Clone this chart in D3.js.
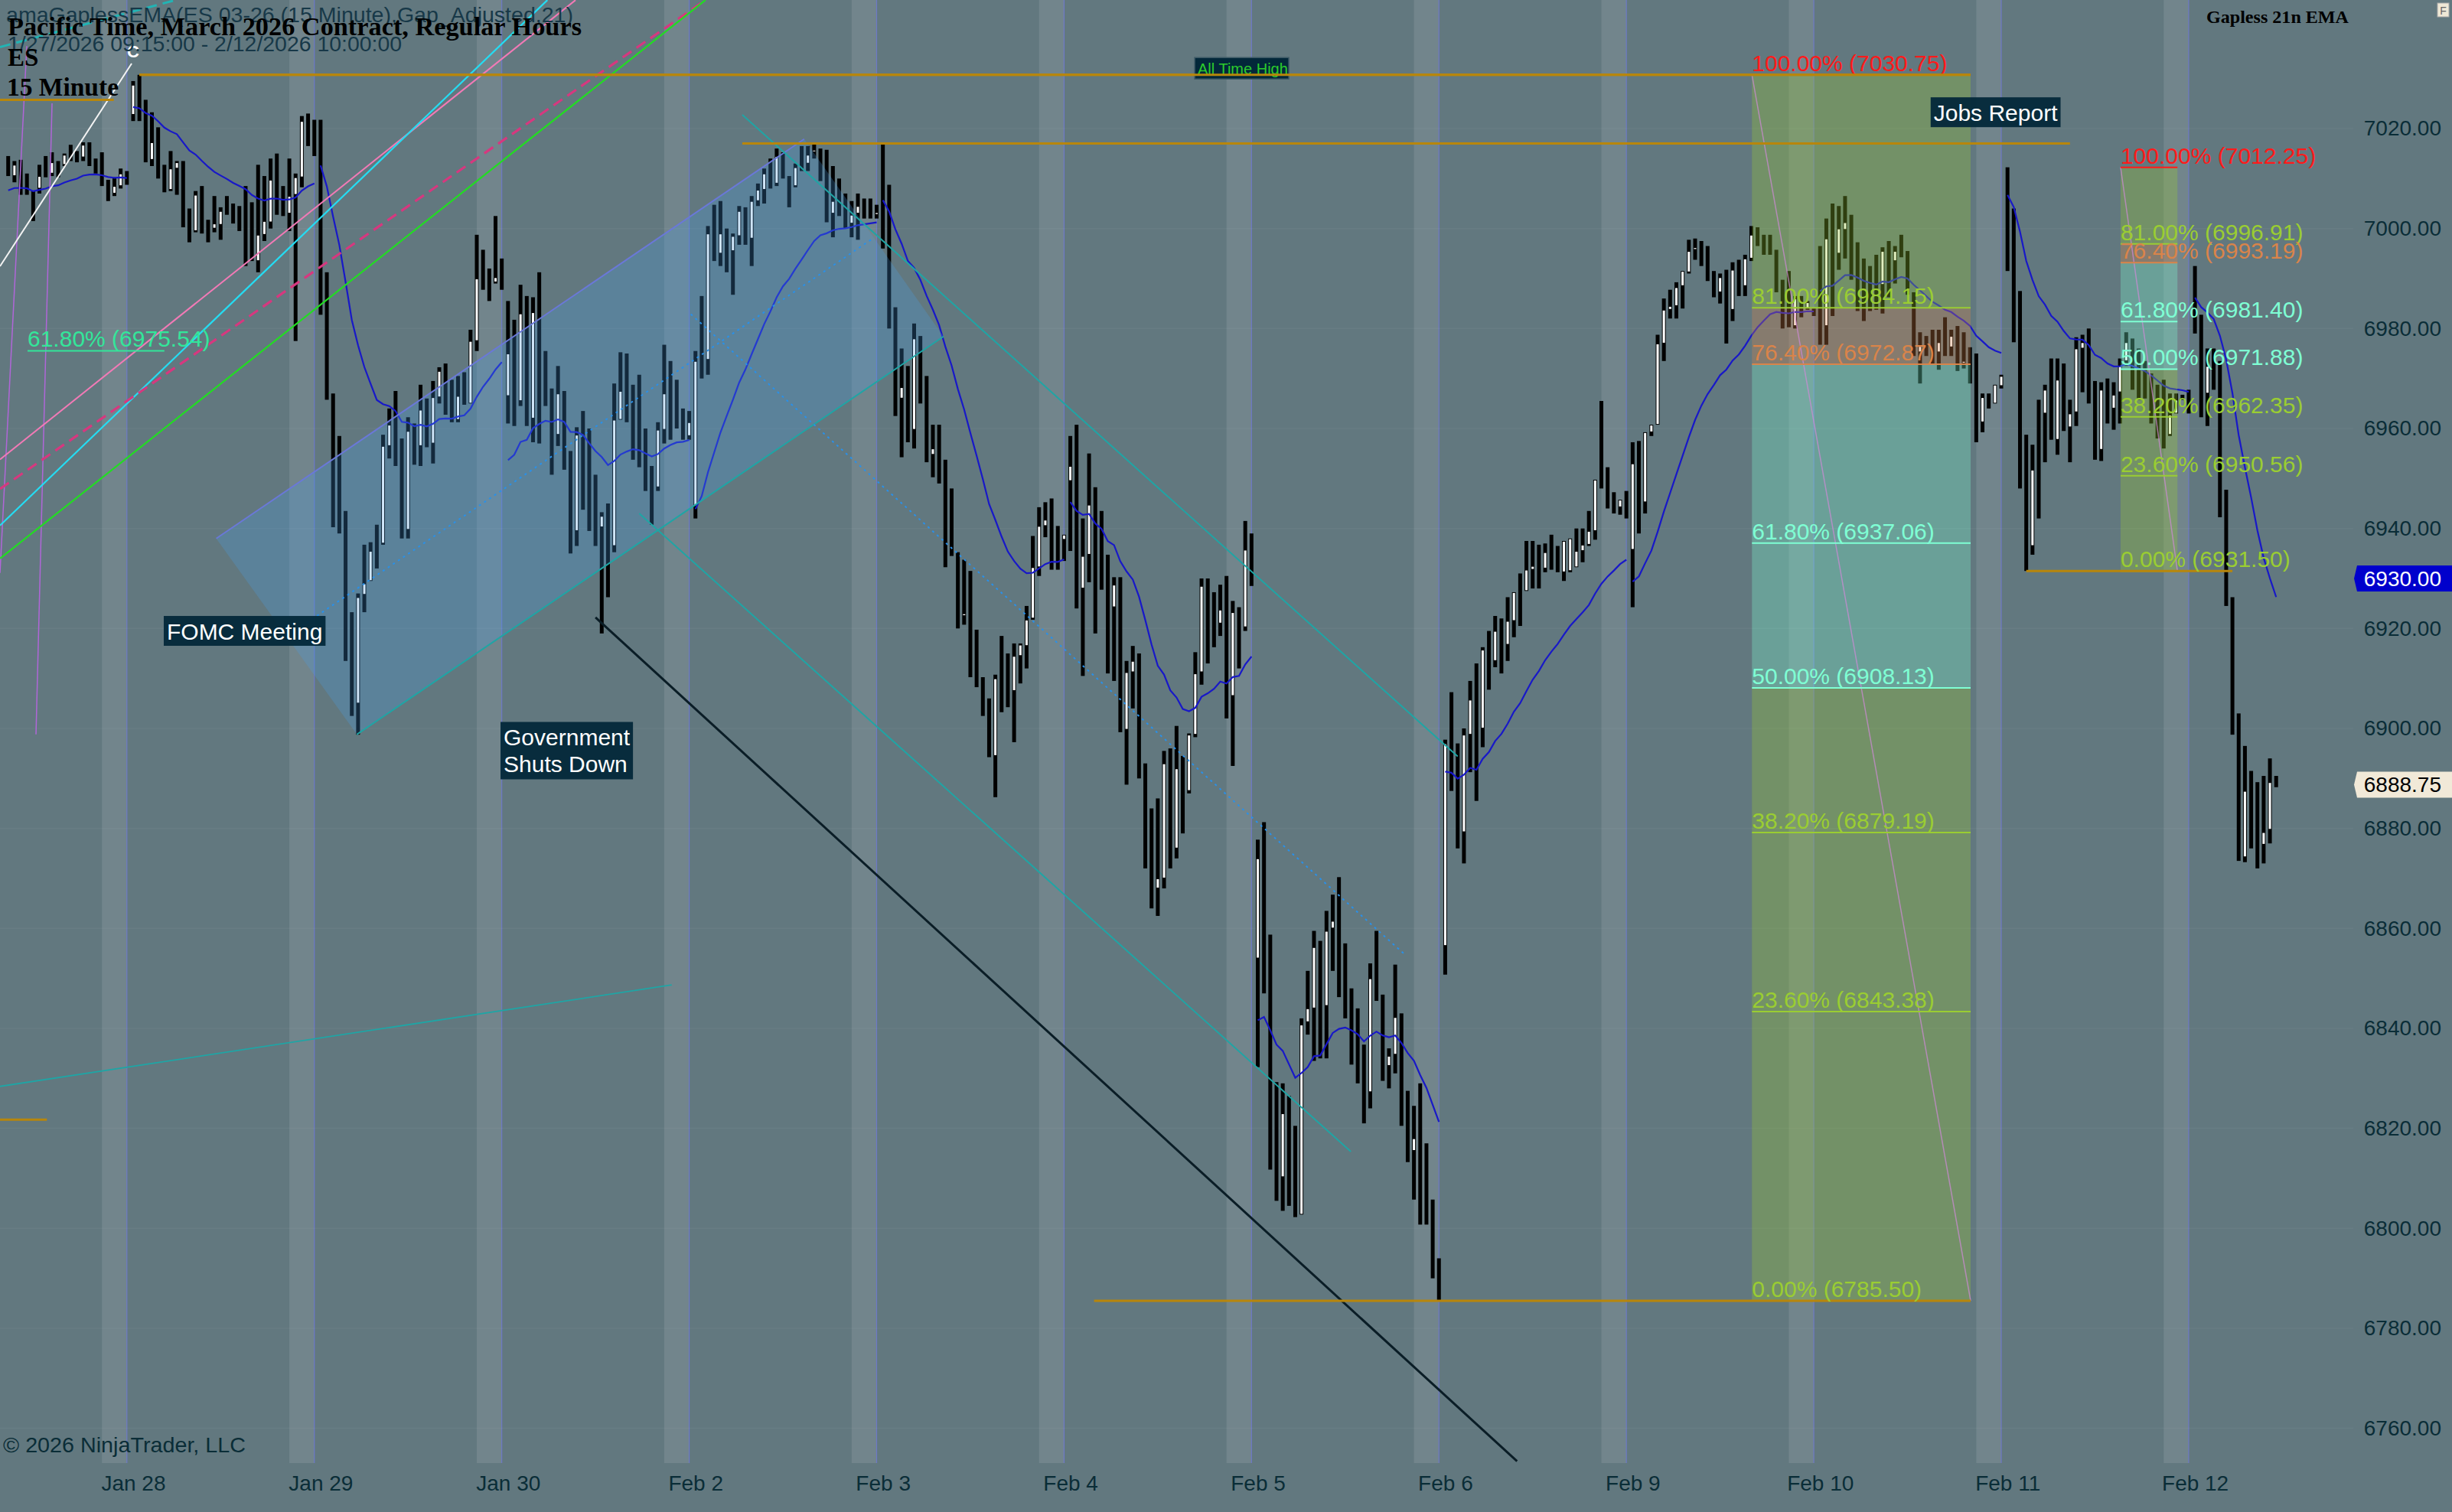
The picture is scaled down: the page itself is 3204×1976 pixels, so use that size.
<!DOCTYPE html>
<html>
<head>
<meta charset="utf-8">
<script src="https://cdn.jsdelivr.net/npm/d3@7"></script>
<style>
  body { margin: 0; background: #62787f; }
  svg { display: block; }
</style>
</head>
<body>
<svg id="chart" width="3204" height="1976"></svg>
<script>
// ES 03-26, 15 minute bars, [open, high, low, close]
const jan27 = [
  [7014,7014.5,7010.5,7011],[7010.5,7013.5,7009.25,7012.75],[7013.25,7013.75,7006.75,7008.5],[7010.5,7011,7006.75,7007],
  [7007,7007.5,7001.5,7001.75],[7008,7012.75,7007,7010.5],[7014.25,7014.5,7010.25,7010.5],[7011,7015.25,7010.5,7013.25],
  [7013.5,7013.5,7010.25,7010.5],[7012.75,7015,7012.5,7014.75],[7016.5,7016.75,7013.5,7013.75],[7015.25,7015.5,7013.25,7013.5],
  [7014.25,7017.25,7013.5,7016.75],[7016.75,7017.25,7012.5,7013],[7013.75,7014,7011,7011.25],[7015,7015.25,7008.5,7008.75],
  [7009.5,7009.75,7005.5,7006.75],[7007,7010.25,7006.5,7008.5],[7008.5,7012,7008,7011],[7011.25,7011.5,7008.75,7009]
];
const jan28 = [
  [7022.75,7029.5,7021.5,7028.75],[7028.75,7030.75,7021.5,7021.75],[7025.5,7025.75,7013.25,7013.5],[7013.75,7023.25,7012.5,7017.25],
  [7020,7020.25,7010,7010.25],[7012.5,7012.75,7007.25,7007.5],[7007.75,7015.5,7007.5,7012],[7012,7013.5,7006.75,7013.25],
  [7013.25,7013.5,7000.25,7000.75],[7003.5,7004,6997.25,6999.25],[6999.5,7007.5,6999.25,7006.75],[7008.5,7008.5,6999,7001],
  [7001.5,7001.75,6997.25,7000.5],[7000,7006.5,6999.25,7001],[7000.75,7004.25,6997.75,7003.5],[7006,7006.5,7002.75,7003],
  [7004.5,7005,7001,7001.25],[7004,7004.5,6999.5,7002.5],[7008.5,7008.5,6992.5,7001.25],[7005,7005.25,6993.5,6995.25],
  [6993.5,7012.75,6991.25,6998.75],[6998.75,7010.5,6997.5,7001.5],[7001.25,7014,7000,7009.75],[7009.5,7015,7002.75,7006.25],
  [7006.25,7008.5,7002.5,7003.25],[7003,7014,6999.5,7006.5],[7006.75,7011,6977.5,7010.25],[7010.25,7022.5,7008.25,7021.5],
  [7022.75,7023,7016.5,7016.75],[7017,7021.75,7014.5,7015]
];
const jan29 = [
  [7021.5,7021.75,6982.75,6983.5],[6990.75,6991.25,6965.75,6966.5],[6966.5,6967,6940.25,6942],[6958,6958.5,6939,6940],
  [6943,6943.5,6913.5,6915.75],[6923,6923.25,6902.5,6905],[6905,6927,6898.75,6926.25],[6926.75,6936.75,6923.25,6929],
  [6929.5,6937.25,6929.5,6935.5],[6936,6940.75,6932,6933],[6937,6958.75,6936.75,6956.5],[6956.5,6964,6954,6960.75],
  [6960.5,6967.5,6952.5,6953.5],[6953.5,6958,6938,6939.75],[6939.75,6962.25,6938,6959.5],[6959.5,6961,6952.75,6953.25],
  [6956.5,6968.75,6952.5,6963.75],[6963.75,6966,6956.25,6957],[6957,6969.5,6953,6966.25],[6966.25,6972.25,6965,6971.5],
  [6971.5,6973,6962.75,6963],[6963,6969.75,6961.25,6961.75],[6961.75,6970.5,6961.25,6966.5],[6966.5,6971.25,6964.75,6965],
  [6965,6979.75,6965,6977.5],[6977.5,6998.75,6975.5,6990],[6990,6995.75,6987.75,6988.25],[6988.25,6992,6985.5,6986],
  [6989.25,7002.5,6989,6990.25],[6990.25,6994,6987.75,6988.25]
];
const jan30 = [
  [6966.5,6985.5,6961,6975],[6975,6981.75,6960.5,6965.5],[6965.5,6988.75,6964.5,6983],[6983,6986.5,6960.5,6962],
  [6962,6986.25,6957.25,6983.25],[6983.25,6991.25,6957,6969.5],[6969.5,6975.5,6964.5,6968],[6967.75,6968,6950.75,6958.75],
  [6958.75,6972.5,6956.5,6967],[6967,6967.5,6951.75,6956.25],[6955.5,6955.5,6935,6939.5],[6939.5,6960.25,6936.5,6958.75],
  [6958.75,6963.5,6943.75,6953.25],[6953.25,6960,6939.5,6940],[6940.5,6950.75,6936.5,6940],[6940.25,6943.25,6919,6942.5],
  [6942.5,6945,6926.25,6936.5],[6936.5,6969,6935.25,6961.75],[6961.75,6975.25,6961.75,6967.5],[6967.5,6975,6961.25,6961.5],
  [6961.5,6968.75,6953.75,6960.5],[6960.5,6970.75,6952.25,6953.75],[6953.75,6960,6947.5,6948.5],[6948.5,6952.5,6940.75,6948.25],
  [6948.25,6961.25,6947.5,6959.75],[6959.75,6976.75,6957,6967],[6967,6973.5,6957.75,6963.75],[6963.75,6969.75,6960,6962.5],
  [6962.5,6964,6957.75,6958.5],[6958.5,6963.5,6957.75,6961.25]
];
const feb2 = [
  [6944.5,6975.5,6942,6973.5],[6974,6986.5,6970,6972],[6973.75,7000.5,6970.75,6999],[6999,7004.75,6993.5,6995],
  [6995,7005.5,6992.5,6999],[6999,7000,6991.25,6995.5],[6995.5,6999,6986.75,6998.5],[6998.5,7004.5,6996.75,7003.5],
  [7003.25,7004.25,6996.75,6998],[6998,7006.5,6992.5,7005.5],[7005.5,7009,7004.5,7007.75],[7007.75,7012,7005,7011],
  [7011,7014,7008,7009],[7009,7016,7008.5,7014.5],[7015,7015.25,7010,7010.25],[7010.25,7010.5,7004.25,7005],
  [7008.5,7013,7008.25,7012.25],[7014,7016.5,7011.5,7012],[7013,7016.5,7011.5,7014.75],[7015.5,7017,7014,7015.75],
  [7015.75,7016,7009.5,7010],[7010,7015.75,7001.25,7003],[7003,7012.5,6998.25,7005.5],[7005.5,7010,7002.5,7003],
  [7003,7007,7000,7001],[7001,7005.5,6998.25,7002.75],[7003,7007,6997.75,7004.5],[7004.5,7006,7002,7002.5],
  [7005,7006,7002,7003],[7002.75,7004.75,7002,7003.25]
];
const feb3 = [
  [7008.5,7017,6996,6997.5],[6997.5,7008.75,6980,6981],[6981,6984.25,6962.5,6964],[6966,6976,6954.25,6968.25],
  [6968.25,6972.5,6957.25,6959],[6959.75,6981,6956,6978],[6978,6978.5,6965,6966],[6966,6970.5,6953.25,6954.5],
  [6954.75,6960.75,6950.25,6956],[6956,6960.75,6949,6950],[6950,6953.75,6932.25,6933],[6944,6948,6934.5,6935],
  [6935,6935.25,6920,6921],[6922.5,6933.75,6920.75,6923],[6923,6931.5,6910.25,6912],[6912,6919.75,6908.25,6909],
  [6909,6910.25,6902.5,6903],[6903,6906,6894.25,6895],[6894.5,6910.75,6886.25,6910],[6910,6918.5,6903.25,6905],
  [6908,6915,6904.25,6905.5],[6907.5,6917,6897.25,6914.5],[6914.5,6917,6909,6916.75],[6916.5,6924.5,6912,6921.75],
  [6922,6938.5,6921.75,6932.25],[6932.25,6944.25,6930.5,6940.5],[6940.5,6945.25,6938.25,6941.75],[6941.75,6946,6931.75,6938],
  [6938,6940.5,6931.75,6933],[6937.75,6938.75,6933.5,6938.75]
];
const feb4 = [
  [6949.5,6958.5,6935.5,6952.5],[6952.5,6960.75,6924,6926],[6928,6942,6910.5,6934.5],[6934.75,6955,6929.25,6944.75],
  [6944.75,6948.25,6919,6922],[6935,6943.5,6927.75,6929],[6929,6934.75,6911,6913],[6924.25,6930.25,6909.5,6928.75],
  [6928.75,6930.25,6899.25,6901],[6899.75,6913.5,6888.75,6911.25],[6911.25,6916.5,6904,6913.5],[6913.5,6915,6890,6892],
  [6892,6893,6872,6875],[6875,6884,6864,6868],[6868,6886,6862.5,6870],[6870,6895.5,6868,6893],
  [6893,6896,6872,6876],[6876,6900.5,6874,6892],[6892,6894.5,6879,6881],[6887.5,6899,6887,6898.75],
  [6898.75,6915.25,6898.25,6911],[6911.25,6930,6908.75,6928.5],[6928.5,6930,6913,6914],[6926,6927.25,6916.25,6917],
  [6921,6928.75,6918.5,6923.75],[6923.75,6930.5,6902,6905],[6906.5,6925.5,6892.5,6923.25],[6923.25,6924.25,6912,6913],
  [6920.25,6941.5,6919.5,6935.75],[6935.75,6939,6928.5,6930]
];
const feb5 = [
  [6854,6877.75,6832.25,6874],[6874,6881.25,6847,6849],[6849,6858.75,6811.75,6813],[6813,6829.25,6805.5,6808],
  [6810.25,6829,6803.5,6823],[6823,6826.5,6804.5,6806],[6818,6820.5,6802.25,6803],[6802.75,6842,6802.75,6840.75],
  [6841.25,6851.5,6838.75,6844],[6844,6859.5,6833.5,6856.25],[6856.25,6857.5,6834,6836],[6844.5,6863.5,6834,6859.5],
  [6860,6866.75,6851.5,6861.5],[6861.5,6870.25,6846.25,6848],[6848,6857,6842,6843],[6843,6848,6832.75,6834],
  [6838,6844,6829,6831],[6831,6836.75,6821,6823],[6827.25,6853,6824,6850],[6850,6859.5,6845.5,6847.5],
  [6846,6846.75,6829.5,6831],[6832.5,6836,6828,6834.5],[6834.75,6852.75,6831,6842.25],[6842.25,6843,6820.5,6822],
  [6822,6827.5,6813.25,6815],[6815.5,6824.5,6805.75,6818],[6818,6829,6800.75,6802],[6810,6817,6800.75,6802.5],
  [6803,6805.75,6790,6791],[6791,6794,6785.5,6787]
];
const feb6 = [
  [6856.5,6897.75,6850.75,6897],[6897,6907.25,6887.5,6889],[6889,6897,6876,6878],[6879.25,6900,6873,6898.75],
  [6898.75,6909.5,6891.25,6905.75],[6905.75,6913,6885.5,6888],[6900,6916.25,6896.25,6915.75],[6915.75,6919.5,6907.75,6909],
  [6913.5,6922.5,6912.25,6919.5],[6919.5,6922,6911,6913],[6916.75,6926.25,6913.5,6921.5],[6921.5,6927.25,6918.25,6927.25],
  [6927.25,6931,6920.5,6922],[6927.5,6937.5,6927.5,6931.75],[6931.75,6937.5,6928,6932.5],[6932.5,6936.75,6928,6929],
  [6932,6937,6931.25,6935.25],[6935.25,6938.75,6931.75,6932.5],[6934,6936.5,6931.25,6932],[6931.25,6937.5,6929.5,6937.5],
  [6931.5,6938,6931.25,6938],[6932.25,6940,6932.25,6935.5],[6935.5,6940,6933.25,6936.75],[6936.75,6943.5,6936.5,6939.5],
  [6939.5,6949.75,6937.75,6949.75],[6949.75,6965.5,6948,6948.5],[6948.5,6952.25,6944,6945],[6945,6947.25,6943,6943.5],
  [6944.25,6945.75,6942.75,6945.75],[6945.75,6947.5,6942,6942.5]
];
const feb9 = [
  [6935.75,6957.25,6924.25,6953],[6953,6957.5,6939,6941],[6945.25,6959.25,6943,6959.25],[6959.25,6960.75,6958.5,6960.75],
  [6960.75,6978.75,6960.75,6977],[6977,6986,6973.5,6983.75],[6983.75,6987.75,6982,6984.5],[6984.5,6989.25,6982,6988.25],
  [6988.5,6991.5,6984,6991.5],[6991.25,6997.75,6991,6995.5],[6995.75,6998,6993.75,6996.25],[6996.25,6997.5,6992.5,6993],
  [6993,6996.5,6989.5,6990],[6990,6991.5,6986.25,6987],[6987.25,6991,6985,6990.25],[6990.25,6991.75,6977,6983],
  [6983.75,6993.25,6981.5,6991.75],[6991.75,6993.75,6986.5,6987],[6988.5,6994.75,6986.5,6994],[6994,7000.5,6993.5,6998.75],
  [6998.75,7000.25,6996.5,6997],[6997,6998.75,6994.75,6995],[6996.5,6998.75,6994.75,6995.25],[6995.25,6995.75,6987.25,6988],
  [6988,6989.75,6980,6981.5],[6985,6991.5,6980.25,6982],[6980.5,6986.5,6980,6986],[6986,6986.5,6982.25,6983],
  [6984,6985.5,6983.75,6985.25],[6984,6984,6982.5,6983]
];
const feb10 = [
  [6988,6996.5,6976.75,6978],[6980.5,7002,6976.75,6998],[6998,7005,6982.5,6990],[6995,7004.5,6991.75,7000],
  [6999.75,7006.5,6994,7001.25],[7001.25,7002.75,6989.75,6991],[6991,6997.25,6983.5,6985],[6988,6994,6981.5,6983],
  [6987,6992.5,6983.5,6985],[6990,6994.75,6983.75,6985.5],[6988.75,6996.25,6983,6995.5],[6995.5,6997.5,6986.25,6988],
  [6993.5,6996.5,6989,6995.5],[6997,6998.75,6994.25,6995],[6995,6995.5,6986.75,6987],[6987,6987.25,6974.5,6976],
  [6975.25,6979.25,6969,6976.5],[6977.5,6978.5,6974.5,6975],[6976,6979.75,6972.75,6974],[6975.25,6979.75,6971.75,6977.25],
  [6977.25,6982.25,6974.5,6975.5],[6976.25,6979.75,6974.5,6978.5],[6978.5,6980.5,6971.5,6973],[6973,6979.25,6972,6973.5],
  [6973.5,6976.25,6969,6970],[6970,6975,6957.25,6959],[6961.25,6967,6959.25,6966.25],[6966.25,6967,6964,6964.5],
  [6965,6968.75,6965,6968.75],[6968.5,6970.75,6968,6970.5]
];
const feb11 = [
  [7003.5,7012.25,6991.5,6993],[6993,7004,6977.25,6980],[6980,6987.5,6948,6950],[6950,6958.75,6931.5,6935],
  [6936.5,6956.75,6934.75,6951.75],[6958,6965.75,6942,6954],[6963,6968.75,6953.25,6967.75],[6967.75,6974,6957.75,6960],
  [6957.75,6974,6954.75,6969.75],[6969.75,6973,6959.5,6961],[6960.25,6965.75,6953.25,6963],[6963.25,6978.25,6960.5,6976],
  [6976,6978.75,6967.25,6977.25],[6977.25,6980,6965,6966],[6966,6969.5,6953.75,6955],[6955.75,6969.25,6953.5,6967.75],
  [6967.75,6970,6961,6962],[6964,6969.25,6959.75,6966.75],[6967.25,6974,6961,6972.5],[6973.5,6979.25,6972.5,6977.25],
  [6977.25,6978,6967.75,6969],[6969.5,6976,6965.75,6966.5],[6970,6973.5,6966,6966.5],[6966.5,6971,6961,6962],
  [6962.5,6968.75,6958,6959.5],[6963,6969.75,6956,6958],[6958.75,6967,6958.5,6962.75],[6963,6967,6963,6965.75],
  [6966.5,6966.75,6965.75,6966],[6966,6967.75,6963,6964]
];
const feb12 = [
  [6983.5,6992.5,6979,6980],[6980,6982.75,6962.25,6965],[6967,6976,6960.5,6972.5],[6972.5,6976,6967.75,6969],
  [6969,6973.5,6942.25,6945],[6945,6947.75,6924.5,6926],[6926,6926.25,6898.75,6900],[6900,6903,6873.5,6875],
  [6874.25,6896.5,6873.25,6887.5],[6887.5,6891.5,6876,6885.5],[6886,6889.25,6872,6874],[6876.75,6890.5,6873,6879.25],
  [6879.75,6894,6877,6889.25],[6889.25,6890.5,6888.25,6888.75]
];

const dayLabels = ['Jan 28','Jan 29','Jan 30','Feb 2','Feb 3','Feb 4','Feb 5','Feb 6','Feb 9','Feb 10','Feb 11','Feb 12'];
const priceTicks = [6760,6780,6800,6820,6840,6860,6880,6900,6920,6940,6960,6980,7000,7020];
const emaPeriod = 21;
const emaSeed = 7007.3;

// drawing objects, anchors as [bar index, price]
const fibRatios = [1, 0.81, 0.764, 0.618, 0.5, 0.382, 0.236, 0];
const fibA = [[279.1, 7030.75], [314.1, 6785.5]];
const fibB = [[338.1, 7012.25], [347.2, 6931.5]];
const fibC618 = [[3.1, 6975.54], [25, 6975.54]];
const goldLines = [
  [[21, 7030.75], [314.1, 7030.75]],
  [[117.5, 7017], [330, 7017]],
  [[173.8, 6785.5], [314.1, 6785.5]],
  [[323, 6931.5], [356, 6931.5]],
  [[-1.5, 7025.75], [16.9, 7025.75]],
  [[-1.5, 6821.75], [6.2, 6821.75]]
];
const lineC = [[-1.31, 6992.45], [19.76, 7033]];
const linePink = [[-1.31, 6953.8], [90.8, 7045.7]];
const lineCyan = [[-1.31, 6940.6], [86.3, 7045.7]];
const lineMagenta = [[-1.31, 6947.9], [111.6, 7045.7]];
const lineGreen = [[-1.31, 6934], [111.6, 7045.7]];
const lineTealTop = [[-1.31, 7036.3], [26.8, 7045.7]];
const lineTealLow = [[-1.31, 6828.4], [106.2, 6848.7]];
const violetA = [[2.98, 7036.5], [-1.31, 6931.1]];
const violetB = [[7.02, 7025.05], [4.45, 6898.8]];
const lineBlack = [[94, 6922.2], [241.5, 6753.4]];
const upChannel = [[33.3, 6938], [127.4, 7017.9], [149.7, 6978.4], [55.8, 6898.8]];
const downUpper = [[117.5, 7022.75], [232, 6894.4]];
const downLower = [[101, 6943], [214.9, 6815.35]];
const notes = [
  {lines: ['FOMC Meeting'], at: [24.9, 6922.5]},
  {lines: ['Government', 'Shuts Down'], at: [78.8, 6901.3]},
  {lines: ['Jobs Report'], at: [307.7, 7026.25]}
];
const athNote = {text: 'All Time High', at: [189.9, 7034.2]};
const markers = [{price: 6930, kind: 'alert'}, {price: 6888.75, kind: 'last'}];

// ---------------------------------------------------------------
const W = 3204, H = 1976, plotW = 3075, plotH = 1912;
const sans = 'Liberation Sans, Arial, sans-serif';
const serif = 'Liberation Serif, Times New Roman, serif';

const sessions = [jan27, jan28, jan29, jan30, feb2, feb3, feb4, feb5, feb6, feb9, feb10, feb11, feb12];
const bars = [];
const sessionStart = [];
sessions.forEach((s, si) => {
  sessionStart.push(bars.length);
  s.forEach(b => bars.push({i: bars.length, s: si, o: b[0], h: b[1], l: b[2], c: b[3]}));
});

const x = d3.scaleLinear().domain([0, 363]).range([10.7, 10.7 + 363 * 8.164]);
const y = d3.scaleLinear().domain([6760, 7020]).range([1866.6, 168]);
const lp = d3.line().x(d => x(d[0])).y(d => y(d[1]));

const svg = d3.select('#chart');
svg.append('rect').attr('width', W).attr('height', H).attr('fill', '#62787f');
svg.append('defs').append('clipPath').attr('id', 'plotClip')
  .append('rect').attr('width', plotW).attr('height', plotH);
const plot = svg.append('g').attr('clip-path', 'url(#plotClip)');

// late-session bands and session break lines
sessions.forEach((s, si) => {
  if (s.length < 20 && si > 0) return;
  const e = sessionStart[si] + s.length - 1;
  plot.append('rect').attr('x', x(e - 4)).attr('width', x(e) - x(e - 4))
    .attr('y', 0).attr('height', plotH).attr('fill', '#ffffff').attr('opacity', 0.1);
  plot.append('line').attr('x1', x(e)).attr('x2', x(e)).attr('y1', 0).attr('y2', plotH)
    .attr('stroke', '#6f78d8').attr('stroke-width', 1.2).attr('opacity', 0.8);
});

plot.selectAll('line.grid').data(priceTicks).join('line').attr('class', 'grid')
  .attr('x1', 0).attr('x2', plotW).attr('y1', d => y(d)).attr('y2', d => y(d))
  .attr('stroke', '#ffffff').attr('stroke-opacity', 0.04).attr('stroke-width', 1.5);

// bars
plot.selectAll('rect.hl').data(bars).join('rect').attr('class', 'hl')
  .attr('x', d => x(d.i) - 2.5).attr('width', 5)
  .attr('y', d => y(d.h)).attr('height', d => Math.max(1.5, y(d.l) - y(d.h)))
  .attr('fill', '#000');
plot.selectAll('rect.up').data(bars.filter(d => d.c > d.o)).join('rect').attr('class', 'up')
  .attr('x', d => x(d.i) - 1.5).attr('width', 3)
  .attr('y', d => y(d.c) + 1).attr('height', d => Math.max(1, y(d.o) - y(d.c) - 2))
  .attr('fill', '#fff');

// gapless EMA, one path per session
const k = 2 / (emaPeriod + 1);
let ema = emaSeed, prevClose = null;
const emaSegs = sessions.map(() => []);
bars.forEach((b, n) => {
  if (n === sessionStart[b.s] && prevClose !== null) ema += b.o - prevClose;
  ema += k * (b.c - ema);
  emaSegs[b.s].push([b.i, ema]);
  prevClose = b.c;
});
plot.selectAll('path.ema').data(emaSegs).join('path').attr('class', 'ema')
  .attr('d', lp).attr('fill', 'none').attr('stroke', '#1818c8').attr('stroke-width', 2.2);

// rising channel (drawn over bars)
plot.append('path').attr('d', lp(upChannel) + 'Z')
  .attr('fill', '#4aa0e8').attr('fill-opacity', 0.26);
plot.append('path').attr('d', lp([upChannel[0], upChannel[1]]))
  .attr('stroke', '#6a78d8').attr('stroke-width', 2).attr('fill', 'none');
plot.append('path').attr('d', lp([upChannel[3], upChannel[2]]))
  .attr('stroke', '#1fa5a5').attr('stroke-width', 2).attr('fill', 'none');
const mid = (a, b) => [(a[0] + b[0]) / 2, (a[1] + b[1]) / 2];
plot.append('path').attr('d', lp([mid(upChannel[0], upChannel[3]), mid(upChannel[1], upChannel[2])]))
  .attr('stroke', '#2a90e8').attr('stroke-width', 2).attr('stroke-dasharray', '3,5').attr('fill', 'none');

// falling channel
[downUpper, downLower].forEach(l => plot.append('path').attr('d', lp(l))
  .attr('stroke', '#1fa5a5').attr('stroke-width', 2).attr('fill', 'none'));
plot.append('path').attr('d', lp([mid(downUpper[0], downLower[0]), mid(downUpper[1], downLower[1])]))
  .attr('stroke', '#2a90e8').attr('stroke-width', 2).attr('stroke-dasharray', '3,5').attr('fill', 'none');

// fibonacci retracements
const fibColor = r => r === 1 ? '#ff1a1a' : r === 0.764 ? '#d9844a' : (r === 0.618 || r === 0.5) ? '#7fffd4' : '#9acd32';
function drawFib(a) {
  const hi = a[0][1], lo = a[1][1];
  const x0 = x(a[0][0]), x1 = x(a[1][0]);
  const lv = fibRatios.map(r => ({r, p: lo + r * (hi - lo)}));
  const g = plot.append('g');
  lv.slice(1).forEach((d, n) => {
    g.append('rect').attr('x', x0).attr('width', x1 - x0)
      .attr('y', y(lv[n].p)).attr('height', y(d.p) - y(lv[n].p))
      .attr('fill', fibColor(d.r)).attr('fill-opacity', 0.3);
  });
  g.append('line').attr('x1', x0).attr('y1', y(hi)).attr('x2', x1).attr('y2', y(lo))
    .attr('stroke', '#d08ad8').attr('stroke-width', 1.5).attr('opacity', 0.7);
  lv.forEach(d => {
    g.append('line').attr('x1', x0).attr('x2', x1).attr('y1', y(d.p)).attr('y2', y(d.p))
      .attr('stroke', fibColor(d.r)).attr('stroke-width', 2);
  });
  return lv;
}
const fibLabels = [];
[fibA, fibB].forEach(a => drawFib(a).forEach(d =>
  fibLabels.push({x: a[0][0], p: d.p, t: `${(d.r * 100).toFixed(2)}% (${d.p.toFixed(2)})`, col: fibColor(d.r)})));

// trend lines
const stroke = (pts, col, w, dash) => plot.append('path').attr('d', lp(pts)).attr('fill', 'none')
  .attr('stroke', col).attr('stroke-width', w).attr('stroke-dasharray', dash || null);
stroke(violetA, '#b066d8', 1.5);
stroke(violetB, '#b066d8', 1.5);
stroke(lineTealTop, '#22b4b4', 3, '14,8');
stroke(lineTealLow, '#1fa5a5', 1.8);
stroke(linePink, '#f27ab6', 2);
stroke(lineCyan, '#25dcf2', 2.2);
stroke(lineMagenta, '#d6387f', 3.2, '14,8');
stroke(lineGreen, '#22dd22', 2.2);
stroke(lineC, '#f4f4f4', 2);
stroke(lineBlack, '#0a1d26', 3);
goldLines.forEach(l => stroke(l, '#b8860b', 3));
stroke(fibC618, '#33e69a', 2);

// labels inside plot
plot.append('text').attr('x', x(lineC[1][0]) + 2).attr('y', y(7034.2)).attr('text-anchor', 'middle')
  .attr('font-family', sans).attr('font-weight', 'bold').attr('font-size', 22).attr('fill', '#fff').text('C');
plot.append('text').attr('x', x(fibC618[0][0])).attr('y', y(fibC618[0][1]) - 5)
  .attr('font-family', sans).attr('font-size', 30).attr('fill', '#33e69a').text('61.80% (6975.54)');
fibLabels.forEach(d => plot.append('text').attr('x', x(d.x)).attr('y', y(d.p) - 5)
  .attr('font-family', sans).attr('font-size', 30).attr('fill', d.col).text(d.t));

notes.forEach(n => {
  const bx = x(n.at[0]), by = y(n.at[1]);
  const g = plot.append('g');
  const box = g.append('rect').attr('x', bx).attr('y', by).attr('height', n.lines.length * 36 + 3)
    .attr('fill', '#03283a').attr('fill-opacity', 0.95);
  const texts = n.lines.map((s, j) => g.append('text').attr('x', bx + 4).attr('y', by + 31 + j * 35)
    .attr('font-family', sans).attr('font-size', 30).attr('fill', '#fff').text(s));
  box.attr('width', d3.max(texts, t => t.node().getComputedTextLength()) + 8);
});
{
  const bx = x(athNote.at[0]), by = y(athNote.at[1]);
  plot.append('rect').attr('x', bx).attr('y', by).attr('width', 123).attr('height', 28)
    .attr('fill', '#03283a').attr('stroke', '#3e5a66').attr('stroke-width', 1.5);
  plot.append('text').attr('x', bx + 4).attr('y', by + 22).attr('font-family', sans)
    .attr('font-size', 20).attr('fill', '#2ccc2c').text(athNote.text);
  stroke(goldLines[0], '#b8860b', 3);
}

// axes
svg.append('g').attr('transform', 'translate(3190,0)')
  .call(d3.axisLeft(y).tickValues(priceTicks).tickFormat(d3.format('.2f')).tickSize(0).tickPadding(0))
  .call(g => g.select('.domain').remove())
  .attr('font-size', 28).attr('font-family', sans)
  .selectAll('text').attr('fill', '#0a2d37');
svg.append('g').attr('transform', `translate(0,${plotH})`)
  .call(d3.axisBottom(x).tickValues(sessionStart.slice(1)).tickFormat((d, n) => dayLabels[n]).tickSize(0).tickPadding(16))
  .call(g => g.select('.domain').remove())
  .attr('font-size', 28).attr('font-family', sans)
  .selectAll('text').attr('fill', '#0a2d37');

// price markers
markers.forEach(m => {
  const yy = y(m.price), t = yy - 17, b = yy + 17;
  svg.append('path').attr('d', `M3080,${t}L3204,${t}L3204,${b}L3080,${b}L3076,${yy}Z`)
    .attr('fill', m.kind === 'alert' ? '#0000cc' : '#f1e9d8');
  svg.append('text').attr('x', 3190).attr('y', yy).attr('dy', '0.35em').attr('text-anchor', 'end')
    .attr('font-family', sans).attr('font-size', 28)
    .attr('fill', m.kind === 'alert' ? '#fff' : '#000').text(m.price.toFixed(2));
});

// header texts
svg.append('text').attr('x', 8).attr('y', 29).attr('font-family', sans).attr('font-size', 28)
  .attr('fill', '#173848').attr('textLength', 741).attr('lengthAdjust', 'spacingAndGlyphs')
  .text('amaGaplessEMA(ES 03-26 (15 Minute),Gap_Adjusted,21)');
svg.append('text').attr('x', 10).attr('y', 46).attr('font-family', serif).attr('font-weight', 'bold')
  .attr('font-size', 33).attr('fill', '#000').attr('textLength', 750).attr('lengthAdjust', 'spacingAndGlyphs')
  .text('Pacific Time, March 2026 Contract, Regular Hours');
svg.append('text').attr('x', 10).attr('y', 67).attr('font-family', sans).attr('font-size', 28)
  .attr('fill', '#173848').attr('textLength', 515).attr('lengthAdjust', 'spacingAndGlyphs')
  .text('1/27/2026 09:15:00 - 2/12/2026 10:00:00');
svg.append('text').attr('x', 10).attr('y', 86).attr('font-family', serif).attr('font-weight', 'bold')
  .attr('font-size', 33).attr('fill', '#000').text('ES');
svg.append('text').attr('x', 9).attr('y', 125).attr('font-family', serif).attr('font-weight', 'bold')
  .attr('font-size', 33).attr('fill', '#000').attr('textLength', 146).attr('lengthAdjust', 'spacingAndGlyphs')
  .text('15 Minute');
svg.append('text').attr('x', 2883).attr('y', 30).attr('font-family', serif).attr('font-weight', 'bold')
  .attr('font-size', 24).attr('fill', '#000').attr('textLength', 186).attr('lengthAdjust', 'spacingAndGlyphs')
  .text('Gapless 21n EMA');
svg.append('rect').attr('x', 3185).attr('y', 4).attr('width', 15).attr('height', 18)
  .attr('fill', '#efe8d6').attr('stroke', '#a9a9a9');
svg.append('text').attr('x', 3192.5).attr('y', 19).attr('text-anchor', 'middle').attr('font-family', sans)
  .attr('font-size', 14).attr('fill', '#666').text('F');
svg.append('text').attr('x', 4).attr('y', 1898).attr('font-family', sans).attr('font-size', 28)
  .attr('fill', '#0a2d37').attr('textLength', 317).attr('lengthAdjust', 'spacingAndGlyphs')
  .text('© 2026 NinjaTrader, LLC');
</script>
</body>
</html>
